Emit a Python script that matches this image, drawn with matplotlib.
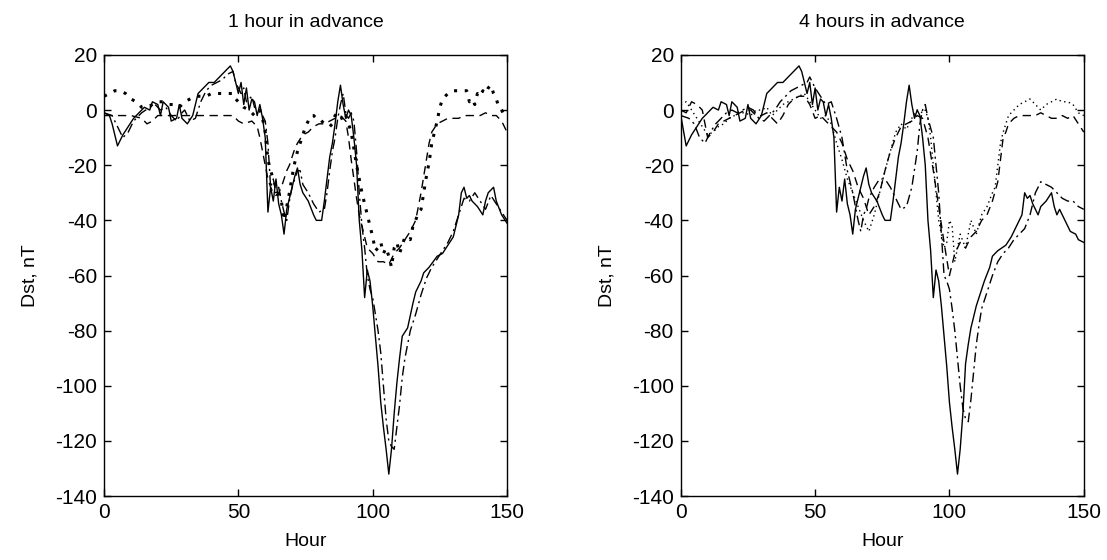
# Dst forecasts, 1 hour and 4 hours in advance

import matplotlib
matplotlib.use("Agg")
import matplotlib.pyplot as plt

plt.rcParams["font.family"] = ["Liberation Sans", "DejaVu Sans"]
plt.rcParams["axes.unicode_minus"] = False

# ---- 1 hour in advance ----
obs1_h = [0, 2, 3, 5, 7, 9, 11, 13, 15, 17, 18, 20, 21, 22, 24, 25, 27, 28, 29, 31,
          33, 35, 37, 39, 41, 43, 45, 47, 48, 50, 51, 52, 53, 54, 55, 56, 57, 58, 59, 60,
          61, 62, 63, 64, 65, 66, 67, 68, 69, 70, 71, 72, 73, 74, 76, 78, 79, 81, 82, 83,
          84, 85, 86, 87, 88, 89, 90, 91, 92, 93, 94, 95, 96, 97, 98, 99, 100, 101, 102, 103,
          104, 105, 106, 107, 108, 109, 110, 111, 113, 115, 116, 118, 119, 121, 124, 126, 128, 130, 131, 132,
          133, 134, 135, 136, 137, 139, 141, 142, 143, 144, 145, 146, 148, 150]
obs1_v = [-1, -2, -5, -13, -9, -6, -3, -1, 1, 0, 3, 2, -2, 3, 1, -4, -3, 2, -3, -5,
          -2, 6, 8, 10, 10, 12, 14, 16, 14, 6, 10, 2, 8, 0, 4, 3, -2, 2, -3, -10,
          -37, -28, -33, -25, -34, -38, -45, -36, -32, -28, -24, -21, -27, -30, -33, -38, -40, -40, -33, -25,
          -17, -12, -5, 3, 9, 2, -3, 0, -2, -10, -20, -40, -51, -68, -58, -62, -71, -82, -93, -106,
          -115, -123, -132, -123, -110, -99, -90, -82, -79, -70, -66, -62, -59, -57, -53, -52, -49, -46, -42, -38,
          -30, -28, -32, -31, -33, -35, -38, -33, -30, -29, -28, -33, -38, -41]

dd1_h = [0, 3, 5, 7, 9, 11, 14, 17, 19, 21, 23, 25, 27, 29, 30, 32, 34, 36, 38, 40,
         42, 44, 46, 48, 49, 51, 52, 53, 55, 56, 58, 59, 60, 61, 62, 63, 64, 65, 66, 67,
         68, 69, 70, 71, 72, 73, 74, 76, 78, 80, 82, 83, 84, 85, 86, 87, 88, 89, 90, 91,
         92, 93, 94, 95, 96, 97, 98, 99, 100, 101, 102, 103, 104, 105, 106, 107, 108, 109, 110, 111,
         112, 113, 114, 116, 118, 120, 122, 124, 126, 128, 130, 132, 134, 136, 138, 140, 142, 144, 146, 148, 150]
dd1_v = [-1, -2, -6, -10, -8, -4, -1, 1, 2, 0, 1, -2, -4, -1, 0, -4, -3, 3, 7, 9,
         10, 11, 13, 14, 10, 6, 8, 3, 5, 1, 0, -2, -4, -12, -28, -25, -30, -28, -33, -37,
         -40, -33, -28, -25, -22, -22, -27, -30, -34, -37, -36, -30, -22, -15, -10, -3, 2, 6, -1, -3,
         -1, -4, -15, -30, -42, -50, -60, -65, -68, -74, -80, -88, -100, -112, -120, -122, -123, -115, -107, -97,
         -90, -85, -80, -74, -67, -61, -57, -54, -51, -48, -44, -38, -32, -33, -30, -33, -36, -31, -34, -37, -40]

dot1_h = [0, 2, 4, 6, 8, 10, 12, 14, 16, 18, 20, 22, 24, 26, 28, 30, 32, 34, 36, 38,
          40, 42, 44, 46, 48, 49, 50, 52, 54, 56, 58, 59, 60, 61, 62, 63, 64, 65, 66, 67,
          68, 69, 70, 71, 72, 73, 74, 75, 76, 77, 78, 79, 80, 82, 84, 85, 86, 87, 88, 89,
          90, 91, 92, 93, 94, 95, 96, 97, 98, 99, 100, 101, 102, 103, 104, 105, 106, 107, 108, 109,
          110, 112, 114, 115, 116, 117, 118, 119, 120, 121, 122, 123, 124, 125, 126, 127, 128, 130, 132, 134,
          135, 136, 137, 138, 139, 140, 141, 142, 143, 144, 145, 146, 147, 148, 149, 150]
dot1_v = [5, 6, 7, 7, 6, 4, 3, 1, 1, 2, 3, 3, 2, 2, 1, 3, 4, 5, 5, 5,
          6, 6, 6, 6, 6, 4, 3, 1, 0, -2, 0, -3, -8, -18, -22, -25, -28, -30, -33, -40,
          -35, -30, -24, -19, -15, -12, -9, -6, -4, -2, -2, -3, -3, -5, -6, -5, -2, -1, -2, -4,
          -2, -5, -8, -14, -20, -25, -30, -34, -38, -42, -46, -51, -50, -48, -52, -50, -53, -57, -50, -48,
          -52, -46, -47, -42, -40, -37, -36, -30, -24, -19, -12, -8, -4, 1, 4, 5, 6, 7, 7, 7,
          7, 3, 4, 2, 6, 5, 7, 6, 8, 9, 6, 4, 1, 0, -2, -1]

ds1_h = [0, 10, 14, 16, 18, 20, 30, 40, 48, 50, 52, 55, 57, 58, 59, 60, 61, 62, 63, 64,
         65, 66, 67, 68, 69, 70, 71, 72, 74, 76, 78, 80, 82, 84, 86, 88, 89, 90, 91, 92,
         93, 94, 95, 96, 97, 98, 100, 102, 104, 106, 108, 110, 112, 114, 116, 117, 118, 119, 120, 121,
         122, 124, 126, 128, 130, 132, 134, 136, 138, 140, 142, 144, 146, 148, 150]
ds1_v = [-2, -2, -3, -5, -4, -2, -2, -2, -2, -4, -5, -4, -6, -10, -15, -20, -25, -28, -30, -31,
         -30, -28, -25, -22, -20, -17, -14, -12, -9, -8, -6, -5, -5, -4, -3, -2, -3, -4, -10, -18,
         -25, -32, -38, -42, -46, -50, -52, -55, -55, -56, -52, -50, -47, -44, -40, -35, -30, -24, -18, -12,
         -8, -5, -4, -3, -3, -3, -2, -2, -2, -2, -1, -2, -2, -4, -8]

# ---- 4 hours in advance ----
obs4_h = [0, 2, 4, 6, 8, 10, 12, 14, 15, 17, 18, 19, 21, 22, 24, 25, 26, 28, 30, 32,
          34, 36, 38, 40, 42, 44, 45, 47, 48, 49, 50, 51, 52, 53, 54, 55, 56, 57, 58, 59,
          60, 61, 62, 63, 64, 65, 66, 67, 68, 69, 70, 71, 73, 75, 76, 78, 79, 80, 81, 82,
          83, 84, 85, 86, 87, 88, 89, 90, 91, 92, 93, 94, 95, 96, 97, 98, 99, 100, 101, 102,
          103, 104, 105, 106, 107, 108, 110, 112, 113, 115, 116, 118, 121, 123, 125, 127, 128, 129, 130, 131,
          132, 133, 134, 136, 138, 139, 140, 141, 142, 143, 145, 147, 148, 150]
obs4_v = [-2, -13, -9, -6, -3, -1, 1, 0, 3, 2, -2, 3, 1, -4, -3, 2, -3, -5, -2, 6,
          8, 10, 10, 12, 14, 16, 14, 6, 10, 2, 8, 0, 4, 3, -2, 2, -3, -10, -37, -28,
          -33, -25, -34, -38, -45, -36, -32, -28, -24, -21, -27, -30, -33, -38, -40, -40, -33, -25, -17, -12,
          -5, 3, 9, 2, -3, 0, -2, -10, -20, -40, -51, -68, -58, -62, -71, -82, -93, -106, -115, -123,
          -132, -123, -110, -92, -85, -79, -71, -65, -62, -57, -53, -51, -49, -46, -42, -38, -30, -32, -31, -34,
          -36, -38, -35, -33, -30, -35, -38, -36, -38, -40, -44, -45, -47, -48]

dd4_h = [0, 3, 5, 7, 9, 11, 13, 15, 17, 19, 21, 23, 25, 27, 29, 31, 33, 35, 37, 39,
         41, 43, 45, 47, 48, 50, 52, 54, 56, 58, 60, 62, 64, 66, 67, 68, 69, 70, 72, 74,
         76, 78, 80, 82, 84, 86, 88, 89, 90, 91, 92, 94, 96, 97, 98, 99, 100, 101, 102, 103,
         104, 105, 106, 107, 108, 109, 110, 111, 112, 114, 116, 118, 120, 122, 124, 126, 128, 130, 132, 134,
         136, 138, 140, 142, 144, 146, 148, 150]
dd4_v = [-2, -3, -5, -10, -12, -8, -5, -3, -1, 0, -1, 0, 1, 0, -3, -4, -2, 0, 3, 5,
         7, 8, 9, 10, 12, 8, 5, 2, 3, -3, -10, -22, -30, -40, -44, -38, -36, -32, -28, -25,
         -25, -28, -32, -36, -35, -28, -15, -5, 0, 2, -3, -10, -30, -45, -60, -62, -65, -72, -80, -90,
         -100, -108, -112, -113, -105, -95, -85, -78, -72, -66, -60, -55, -52, -50, -47, -45, -43, -38, -30, -26,
         -27, -28, -30, -32, -33, -33, -35, -36]

dot4_h = [0, 2, 4, 6, 8, 10, 12, 14, 16, 18, 20, 22, 24, 26, 28, 30, 32, 34, 36, 38,
          40, 42, 44, 46, 48, 50, 52, 54, 56, 58, 60, 62, 64, 66, 68, 70, 72, 74, 76, 78,
          80, 82, 84, 86, 88, 90, 91, 92, 93, 94, 95, 96, 97, 98, 99, 100, 101, 102, 104, 106,
          108, 110, 112, 114, 116, 117, 118, 119, 120, 121, 122, 124, 126, 128, 130, 132, 134, 136, 138, 140,
          142, 144, 146, 148, 150]
dot4_v = [2, 3, 0, -3, -6, -9, -8, -6, -5, -3, -2, -1, -1, -2, 0, 0, 1, -2, 0, 2,
          3, 4, 5, 6, 3, 0, -3, -2, -5, -12, -18, -25, -30, -35, -40, -44, -38, -30, -22, -15,
          -8, -5, -7, -3, 0, -1, 0, -3, -10, -20, -30, -40, -45, -50, -48, -40, -42, -55, -45, -50,
          -40, -45, -38, -35, -30, -28, -20, -12, -8, -5, -2, 0, 2, 3, 4, 2, 0, 2, 3, 4,
          3, 3, 2, -1, -2]

ds4_h = [0, 2, 4, 6, 8, 10, 12, 14, 16, 18, 20, 22, 24, 26, 28, 30, 32, 34, 36, 38,
         40, 42, 44, 46, 48, 50, 52, 54, 56, 58, 60, 62, 64, 66, 68, 70, 72, 74, 76, 78,
         80, 82, 84, 86, 88, 90, 92, 94, 96, 98, 100, 102, 104, 106, 108, 110, 112, 114, 116, 118,
         119, 120, 121, 122, 124, 126, 128, 130, 132, 134, 136, 138, 140, 142, 144, 146, 148, 150]
ds4_v = [0, -1, 3, 2, 0, -10, -8, -5, -4, -3, -2, -1, 0, 0, -2, -2, -1, -3, -5, -2,
         2, 4, 5, 5, 2, -3, -2, -4, -6, -8, -12, -18, -22, -28, -32, -38, -35, -30, -22, -15,
         -10, -6, -5, -4, -2, -3, -10, -22, -35, -48, -60, -52, -48, -50, -46, -44, -40, -38, -33, -26,
         -18, -10, -8, -5, -3, -2, -2, -2, -2, -1, -2, -3, -3, -2, -3, -2, -5, -8]

panels = [
    ("1 hour in advance", obs1_h, obs1_v, dd1_h, dd1_v, dot1_h, dot1_v, ds1_h, ds1_v, 2.2),
    ("4 hours in advance", obs4_h, obs4_v, dd4_h, dd4_v, dot4_h, dot4_v, ds4_h, ds4_v, 1.0),
]

fig = plt.figure(figsize=(11.07, 5.6), dpi=100)
lefts = [0.094, 0.615]

for left, p in zip(lefts, panels):
    title, oh, ov, ddh, ddv, dth, dtv, dsh, dsv, dot_lw = p
    ax = fig.add_axes([left, 0.114, 0.364, 0.788])
    ax.plot(oh, ov, color="k", lw=1.0, ls="-")
    ax.plot(ddh, ddv, color="k", lw=1.0, ls=(0, (7, 3, 1.5, 3)))
    ax.plot(dth, dtv, color="k", lw=dot_lw, ls=(0, (1, 2.5)))
    ax.plot(dsh, dsv, color="k", lw=1.0, ls=(0, (6, 4)))
    ax.set_xlim(0, 150)
    ax.set_ylim(-140, 20)
    ax.set_xticks([0, 50, 100, 150])
    ax.set_yticks(range(-140, 21, 20))
    ax.tick_params(direction="in", top=True, right=True, length=5, width=1,
                   labelsize=15, pad=5)
    for s in ax.spines.values():
        s.set_linewidth(1.0)
    ax.set_title(title, fontsize=14, pad=20)
    ax.set_xlabel("Hour", fontsize=14, labelpad=8)
    ax.set_ylabel("Dst, nT", fontsize=14, labelpad=12)

plt.savefig("out.png", dpi=100)
